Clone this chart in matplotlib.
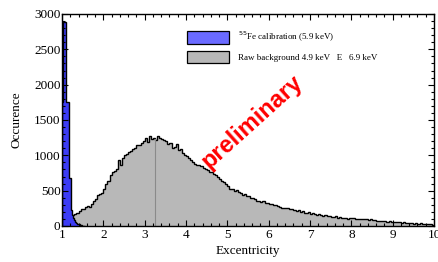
import numpy as np
import matplotlib
matplotlib.use('Agg')
import matplotlib.pyplot as plt
from matplotlib.patches import Patch

plt.rc('font', family='Liberation Serif')

# 55Fe calibration, bins of 0.025 starting at 1.0
fe_start = 1.0
fe_width = 0.025
fe_counts = [1750, 2880, 2880, 2880, 1750, 1750, 1750, 680, 680, 220, 160, 110,
             80, 60, 45, 30, 22, 15, 10, 6, 4, 2]

# raw background, bins of 0.05 starting at 1.25
bg_start = 1.25
bg_width = 0.05
bg_counts = [150, 175, 185, 210, 240, 235, 265, 280, 270, 310, 350, 380, 440, 450, 470,
             520, 600, 640, 720, 760, 780, 800, 930, 860, 960, 1000, 1020, 1050, 1060, 1090,
             1110, 1140, 1150, 1180, 1200, 1240, 1190, 1270, 1230, 1250, 1210, 1270, 1250, 1230, 1220,
             1200, 1160, 1180, 1110, 1120, 1160, 1080, 1090, 1040, 1010, 990, 960, 930, 900, 880,
             870, 860, 850, 820, 800, 790, 770, 760, 740, 720, 690, 660, 640, 620, 600,
             560, 520, 530, 500, 510, 480, 470, 440, 450, 430, 420, 390, 400, 380, 360,
             350, 345, 350, 330, 320, 310, 305, 300, 295, 290, 270, 260, 250, 255, 260,
             245, 240, 230, 215, 220, 200, 210, 190, 185, 195, 175, 180, 170, 160, 165,
             150, 145, 150, 135, 140, 130, 125, 135, 120, 125, 115, 110, 120, 105, 110,
             115, 110, 105, 100, 100, 95, 100, 95, 90, 95, 85, 80, 75, 70, 75,
             65, 70, 60, 65, 55, 60, 55, 50, 55, 45, 50, 45, 40, 45, 40,
             35, 40, 35, 45, 35, 30, 35, 30, 25, 20]
bg_mean = 3.25
bg_mean_height = 1230

labels = ['$^{55}$Fe calibration (5.9 keV)', 'Raw background 4.9 keV   E   6.9 keV']

fe_edges = fe_start + fe_width * np.arange(len(fe_counts) + 1)
bg_edges = bg_start + bg_width * np.arange(len(bg_counts) + 1)

fig = plt.figure(figsize=(4.39, 2.62), dpi=100)
ax = fig.add_axes([62/439, 1-226/262, (434-62)/439, (226-14)/262])

ax.stairs(bg_counts, bg_edges, fill=True, facecolor='#b8b8b8', edgecolor='none')
ax.stairs(bg_counts, bg_edges, color='black', lw=1.0)
ax.plot([bg_mean, bg_mean], [0, bg_mean_height], color='#8a8a8a', lw=0.8)
ax.stairs(fe_counts, fe_edges, fill=True, facecolor='#3c3cf5', edgecolor='none')
ax.stairs(fe_counts, fe_edges, color='black', lw=1.0)

ax.set_xlim(1, 10)
ax.set_ylim(0, 3000)
ax.set_xticks(np.arange(1, 11))
ax.set_xticks(np.arange(1, 10.01, 0.2), minor=True)
ax.set_yticks(np.arange(0, 3001, 500))
ax.set_yticks(np.arange(0, 3001, 100), minor=True)
ax.tick_params(which='both', direction='in', top=True, right=True, labelsize=9.5, width=0.8)
ax.tick_params(which='major', length=4.5)
ax.tick_params(which='minor', length=2.2)
ax.tick_params(axis='x', pad=2)
ax.tick_params(axis='y', pad=1)
for s in ax.spines.values():
    s.set_linewidth(1.0)

ax.set_xlabel('Excentricity', fontsize=9.5, labelpad=3)
ax.set_ylabel('Occurence', fontsize=9.5, labelpad=8)

handles = [Patch(facecolor='#6a6aff', edgecolor='black', lw=0.9),
           Patch(facecolor='#b8b8b8', edgecolor='black', lw=0.9)]
fig.legend(handles, labels, loc='upper left', bbox_to_anchor=(187/439, 1-30/262),
           frameon=False, fontsize=6.5, borderpad=0, borderaxespad=0,
           handlelength=4.6, handleheight=1.75, handletextpad=1.0, labelspacing=0.75)

ax.text(5.6, 1470, 'preliminary', color='red', fontsize=17, fontweight='bold',
        family='Liberation Sans', rotation=42, ha='center', va='center')

fig.savefig('out.png', dpi=100)
